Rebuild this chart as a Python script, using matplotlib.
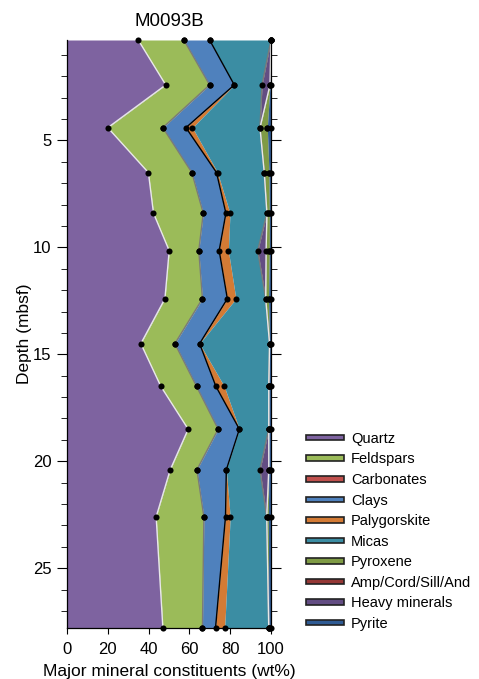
import matplotlib

matplotlib.use("Agg")
import matplotlib.pyplot as plt  # noqa: E402
import numpy as np  # noqa: E402
from matplotlib.patches import Patch  # noqa: E402
from matplotlib.ticker import MultipleLocator  # noqa: E402

plt.rcParams["font.family"] = ["Liberation Sans", "DejaVu Sans"]

# core sample depths (mbsf) and mineral abundances (wt%) per sample
depth = [0.3, 2.4, 4.4, 6.5, 8.4, 10.15, 12.4, 14.5, 16.5, 18.5, 20.4, 22.6, 27.8]
quartz = [34.9, 48.4, 20.0, 39.9, 42.4, 50.1, 48.0, 36.2, 46.0, 59.4, 50.6, 43.7, 47.0]
feldspars = [22.4, 21.5, 27.0, 21.3, 24.4, 14.5, 18.4, 16.7, 17.5, 14.7, 13.1, 23.4, 19.4]
carbonates = [0, 0, 0, 0, 0, 0, 0, 0, 0, 0, 0, 0, 0]
clays = [12.6, 12.1, 11.3, 12.1, 11.1, 10.0, 12.2, 12.1, 9.5, 10.4, 14.4, 10.6, 6.4]
palygorskite = [0, 0, 3.2, 0.5, 2.0, 4.5, 4.2, 0, 4.1, 0, 0, 2.3, 4.5]
micas = [30.1, 13.6, 33.1, 22.9, 18.1, 14.4, 14.6, 34.3, 21.8, 14.4, 16.5, 17.9, 21.6]
heavy = [0, 3.9, 0, 0, 0, 4.1, 0, 0, 0, 0, 4.3, 0, 0]
pyroxene = [0, 0, 3.6, 2.3, 1.2, 1.6, 1.4, 0, 0, 0, 0, 0.8, 0]
amphiboles = [0, 0, 0, 0, 0, 0, 0, 0, 0, 0, 0, 0, 0]
pyrite = [0, 0.5, 1.8, 1.0, 0.8, 0.8, 1.2, 0.7, 1.1, 1.1, 1.1, 1.3, 1.1]

legend_names = ["Quartz", "Feldspars", "Carbonates", "Clays", "Palygorskite", "Micas",
                "Pyroxene", "Amp/Cord/Sill/And", "Heavy minerals", "Pyrite"]
colors = {
    "Quartz": "#7e63a0", "Feldspars": "#9bbb59", "Carbonates": "#c0504d",
    "Clays": "#4f81bd", "Palygorskite": "#d47b35", "Micas": "#3b8da3",
    "Pyroxene": "#7f9b45", "Amp/Cord/Sill/And": "#953735",
    "Heavy minerals": "#634d83", "Pyrite": "#2f5b94",
}
# boundary line drawn on the right-hand edge of each layer (None = no line)
edges = {"Quartz": "#e8e8e8", "Feldspars": "#7a7a7a", "Clays": "black",
         "Micas": "#7a7a7a", "Heavy minerals": "#e8e8e8"}

# stacking order, left to right
layers = [("Quartz", quartz), ("Feldspars", feldspars), ("Carbonates", carbonates),
          ("Clays", clays), ("Palygorskite", palygorskite), ("Micas", micas),
          ("Heavy minerals", heavy), ("Pyroxene", pyroxene),
          ("Amp/Cord/Sill/And", amphiboles), ("Pyrite", pyrite)]

fig = plt.figure(figsize=(4.79, 6.79), dpi=100)
ax = fig.add_axes([67 / 479, 51 / 679, 204 / 479, 588 / 679])

y = np.array(depth)
left = np.zeros(len(y))
bounds = []
for name, vals in layers:
    right = left + np.array(vals)
    ax.fill_betweenx(y, left, right, color=colors[name], lw=0, zorder=1)
    bounds.append((name, right.copy()))
    left = right

for name, right in bounds:
    if name in edges:
        ax.plot(right, y, color=edges[name], lw=1.0, zorder=2)
for name, right in bounds:
    ax.plot(right, y, "o", color="black", ms=4.4, mew=0, zorder=3, clip_on=False)

ax.set_xlim(0, 100)
ax.set_ylim(max(depth), min(depth))
ax.set_xticks([0, 20, 40, 60, 80, 100])
ax.yaxis.set_major_locator(MultipleLocator(5))
ax.yaxis.set_minor_locator(MultipleLocator(1))
ax.tick_params(axis="x", direction="out", length=4, labelsize=12, pad=6)
ax.tick_params(axis="y", which="major", direction="out", length=7, labelsize=12,
               right=True, pad=4)
ax.tick_params(axis="y", which="minor", direction="out", length=4, right=True)
ax.spines["top"].set_visible(False)
for s in ("left", "bottom", "right"):
    ax.spines[s].set_linewidth(0.9)

ax.set_title("M0093B", fontsize=13.5, pad=10)
ax.set_ylabel("Depth (mbsf)", fontsize=12.5, labelpad=1)
ax.set_xlabel("Major mineral constituents (wt%)", fontsize=12.5, labelpad=5)

handles = [Patch(facecolor=colors[n], edgecolor="#222222", lw=1.2, label=n)
           for n in legend_names]
fig.legend(handles=handles, loc="lower left", bbox_to_anchor=(306 / 479, 48 / 679),
           frameon=False, fontsize=10.5, handlelength=2.6, handleheight=0.2,
           handletextpad=0.5, labelspacing=0.45, borderpad=0, borderaxespad=0)

fig.savefig("out.png", dpi=100)
